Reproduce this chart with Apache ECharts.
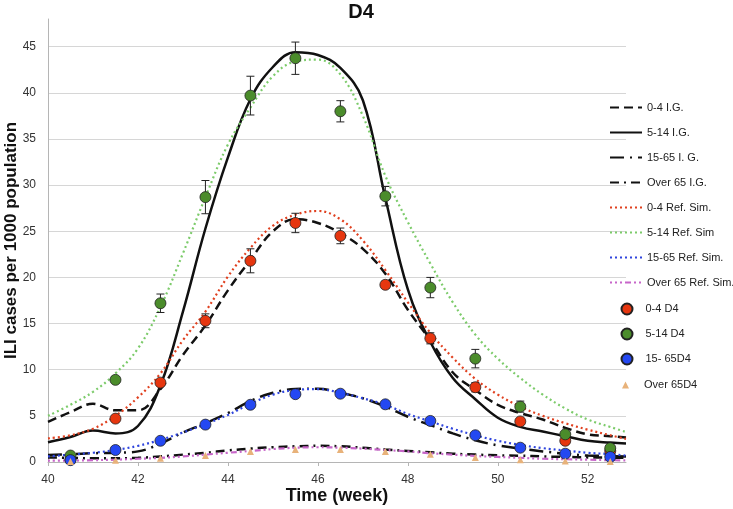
<!DOCTYPE html>
<html><head><meta charset="utf-8">
<script src="https://cdn.jsdelivr.net/npm/echarts@6.0.0/dist/echarts.min.js"></script>
<style>html,body{margin:0;padding:0;background:#fff}#c{width:733px;height:509px}</style>
</head><body><div id="c"></div>
<script>
// ---- data ----
const xTicks = [40, 42, 44, 46, 48, 50, 52];
const yTicks = [0, 5, 10, 15, 20, 25, 30, 35, 40, 45];
const curveX = [40, 40.5, 41, 41.5, 42, 42.5, 43, 43.5, 44, 44.5, 45, 45.5, 46, 46.5, 47, 47.5, 48, 48.5, 49, 49.5, 50, 50.5, 51, 51.5, 52, 52.5, 52.85];
const ig0_4   = [4.35, 5.4, 6.3, 5.6, 5.6, 7.9, 11.6, 14.8, 18.6, 21.9, 25.0, 26.3, 25.9, 24.8, 23.1, 20.4, 16.5, 13.2, 9.7, 7.8, 6.2, 5.3, 4.6, 3.7, 3.0, 2.8, 2.65];
const ig5_14  = [2.15, 2.7, 3.4, 3.1, 3.9, 8.3, 16.3, 25.3, 33.0, 39.3, 42.8, 44.4, 44.1, 42.7, 39.2, 28.6, 18.7, 13.0, 9.1, 6.8, 4.8, 3.8, 3.3, 2.8, 2.3, 2.1, 2.0];
const ig15_65 = [0.75, 0.85, 0.95, 1.0, 1.15, 2.0, 3.2, 4.2, 5.3, 6.6, 7.5, 7.9, 7.95, 7.5, 6.9, 6.0, 4.9, 4.0, 3.1, 2.35, 1.8, 1.45, 1.15, 0.9, 0.7, 0.65, 0.6];
const igOver65 = [0.5, 0.45, 0.4, 0.4, 0.45, 0.6, 0.8, 1.0, 1.25, 1.45, 1.6, 1.7, 1.75, 1.7, 1.55, 1.35, 1.2, 1.05, 0.9, 0.8, 0.72, 0.68, 0.6, 0.55, 0.5, 0.47, 0.45];
const ref0_4  = [2.55, 2.9, 3.6, 5.0, 7.0, 9.6, 13.2, 16.3, 20.1, 23.2, 25.6, 26.8, 27.2, 26.3, 24.0, 20.8, 17.3, 14.0, 11.3, 9.0, 7.3, 6.0, 5.0, 4.2, 3.5, 2.9, 2.5];
const ref5_14 = [5.0, 6.2, 7.6, 9.6, 12.3, 16.8, 22.6, 28.7, 34.4, 38.4, 41.8, 43.4, 43.6, 42.0, 37.5, 31.0, 26.0, 21.5, 17.3, 13.8, 11.2, 9.1, 7.3, 5.8, 4.6, 3.8, 3.25];
const ref15_65 = [0.6, 0.8, 1.0, 1.3, 1.75, 2.4, 3.2, 4.1, 5.1, 6.3, 7.3, 7.8, 7.9, 7.5, 6.9, 6.2, 5.2, 4.4, 3.6, 2.9, 2.3, 1.85, 1.5, 1.25, 1.0, 0.85, 0.7];
const refOver65 = [0.15, 0.15, 0.2, 0.25, 0.35, 0.45, 0.6, 0.8, 1.0, 1.2, 1.4, 1.55, 1.6, 1.55, 1.45, 1.3, 1.15, 0.95, 0.8, 0.65, 0.55, 0.45, 0.35, 0.3, 0.25, 0.2, 0.18];
const ptX = [40.5, 41.5, 42.5, 43.5, 44.5, 45.5, 46.5, 47.5, 48.5, 49.5, 50.5, 51.5, 52.5];
const d4_0_4   = [0.3, 4.7, 8.6, 15.3, 21.8, 25.9, 24.5, 19.2, 13.4, 8.1, 4.4, 2.3, 1.2];
const d4_5_14  = [0.7, 8.9, 17.2, 28.7, 39.7, 43.75, 38.0, 28.8, 18.9, 11.2, 6.0, 3.0, 1.5];
const d4_15_65 = [0.2, 1.3, 2.3, 4.05, 6.2, 7.35, 7.4, 6.25, 4.45, 2.9, 1.55, 0.9, 0.55];
const d4_over65 = [0.05, 0.2, 0.4, 0.7, 1.15, 1.35, 1.35, 1.15, 0.85, 0.5, 0.25, 0.1, 0.05];
const err0_4  = [0, 0.2, 0.3, 0.75, 1.3, 1.05, 0.85, 0.4, 0.6, 0.5, 0.3, 0.2, 0.1];
const err5_14 = [0, 0.3, 1.0, 1.8, 2.1, 1.75, 1.15, 1.05, 1.1, 1.0, 0.6, 0.3, 0.2];
const lineNames = ['0-4 I.G.', '5-14 I.G.', '15-65 I. G.', 'Over 65 I.G.', '0-4 Ref. Sim.', '5-14 Ref. Sim', '15-65 Ref. Sim.', 'Over 65 Ref. Sim.'];
const pointNames = ['0-4 D4', '5-14 D4', '15- 65D4', 'Over 65D4'];

// ---- build ----
const FONT = 'Liberation Sans, Arial, sans-serif';
const pair = (xs, ys) => xs.map((x, i) => [x, ys[i]]);
function lineS(name, ys, color, dash, width) {
  return { type: 'line', name, data: pair(curveX, ys), smooth: 0.4, symbol: 'none', showSymbol: false,
    lineStyle: { color, width, type: dash, cap: 'butt' }, itemStyle: { color }, z: 2, silent: true };
}
function errS(vals, errs) {
  return { type: 'custom', name: 'err', silent: true, z: 3,
    data: ptX.map((x, i) => [x, vals[i] - errs[i], vals[i] + errs[i]]).filter((d, i) => errs[i] > 0),
    renderItem: (params, api) => {
      const a = api.coord([api.value(0), api.value(1)]);
      const b = api.coord([api.value(0), api.value(2)]);
      const w = 4, st = { stroke: '#222', lineWidth: 1 };
      return { type: 'group', children: [
        { type: 'line', shape: { x1: a[0], y1: a[1], x2: b[0], y2: b[1] }, style: st },
        { type: 'line', shape: { x1: a[0] - w, y1: a[1], x2: a[0] + w, y2: a[1] }, style: st },
        { type: 'line', shape: { x1: b[0] - w, y1: b[1], x2: b[0] + w, y2: b[1] }, style: st }
      ]};
    } };
}
function ptS(name, ys, color, symbol, size, border) {
  return { type: 'scatter', name, data: pair(ptX, ys), symbol, symbolSize: size, symbolKeepAspect: true,
    itemStyle: { color, borderColor: border ? '#222' : color, borderWidth: border ? 0.8 : 0, opacity: 1 }, z: 5, silent: true };
}
const legendText = { fontFamily: FONT, fontSize: 11, color: '#222' };

const chart = echarts.init(document.getElementById('c'), null, { renderer: 'canvas' });
chart.setOption({
  animation: false,
  backgroundColor: '#fff',
  title: { text: 'D4', left: 361, top: 2, padding: 0, textAlign: 'center',
    textStyle: { fontFamily: FONT, fontSize: 20, fontWeight: 'bold', color: '#111' } },
  grid: { left: 48, right: 107, top: 19, bottom: 47, containLabel: false, outerBoundsMode: 'none' },
  legend: [
    { orient: 'vertical', left: 609, top: 102, padding: 0, itemWidth: 32, itemHeight: 11, itemGap: 14,
      data: lineNames.map(n => ({ name: n, itemStyle: { color: 'rgba(0,0,0,0)', borderWidth: 0, opacity: 0 } })),
      selectedMode: false, textStyle: legendText },
    { orient: 'vertical', left: 620.5, top: 302.5, padding: 0, itemWidth: 11, itemHeight: 11, itemGap: 12,
      data: pointNames.slice(0, 3), selectedMode: false, textStyle: Object.assign({ padding: [0, 0, 0, 8] }, legendText) },
    { orient: 'vertical', left: 622, top: 379.5, padding: 0, itemWidth: 7, itemHeight: 7, itemGap: 14,
      data: pointNames.slice(3), selectedMode: false, textStyle: Object.assign({ padding: [0, 0, 0, 10] }, legendText) }
  ],
  xAxis: {
    type: 'value', min: 40, max: 52.85, interval: 2,
    name: 'Time (week)', nameLocation: 'middle', nameGap: 25, nameMoveOverlap: false,
    nameTextStyle: { fontFamily: FONT, fontSize: 18, fontWeight: 'bold', color: '#111' },
    axisLine: { show: true, lineStyle: { color: '#b5b5b5', width: 1 } },
    axisTick: { show: true, length: 4, customValues: xTicks, lineStyle: { color: '#b5b5b5' } },
    axisLabel: { customValues: xTicks, margin: 12, fontFamily: FONT, fontSize: 12, color: '#333' },
    splitLine: { show: false }
  },
  yAxis: {
    type: 'value', min: 0, max: 48, interval: 5,
    name: 'ILI cases per 1000 population', nameLocation: 'middle', nameGap: 28, nameMoveOverlap: false,
    nameTextStyle: { fontFamily: FONT, fontSize: 17, fontWeight: 'bold', color: '#111' },
    axisLine: { show: true, lineStyle: { color: '#b5b5b5', width: 1 } },
    axisTick: { show: false },
    axisLabel: { customValues: yTicks, margin: 12, fontFamily: FONT, fontSize: 12, color: '#333' },
    splitLine: { show: true, showMinLine: false, showMaxLine: false, lineStyle: { color: '#d6d6d6', width: 1 } }
  },
  series: [
    lineS(lineNames[0], ig0_4, '#111', [9, 5], 2.5),
    lineS(lineNames[1], ig5_14, '#111', 'solid', 2.5),
    lineS(lineNames[2], ig15_65, '#111', [14, 6, 2, 6], 2.5),
    lineS(lineNames[3], igOver65, '#111', [9, 5, 2, 5], 2.5),
    lineS(lineNames[4], ref0_4, '#e0401f', [2, 3], 2.2),
    lineS(lineNames[5], ref5_14, '#7ccb6a', [2, 3], 2.2),
    lineS(lineNames[6], ref15_65, '#2f45dd', [2, 3], 2.2),
    lineS(lineNames[7], refOver65, '#c766c9', [2, 3, 2, 3, 2, 3, 6, 3], 2.2),
    errS(d4_0_4, err0_4),
    errS(d4_5_14, err5_14),
    ptS(pointNames[0], d4_0_4, '#e6360f', 'circle', 11, true),
    ptS(pointNames[1], d4_5_14, '#4b8c2b', 'circle', 11, true),
    ptS(pointNames[2], d4_15_65, '#2448f2', 'circle', 11, true),
    ptS(pointNames[3], d4_over65, '#e8b27a', 'triangle', 7, false)
  ]
});
</script></body></html>
